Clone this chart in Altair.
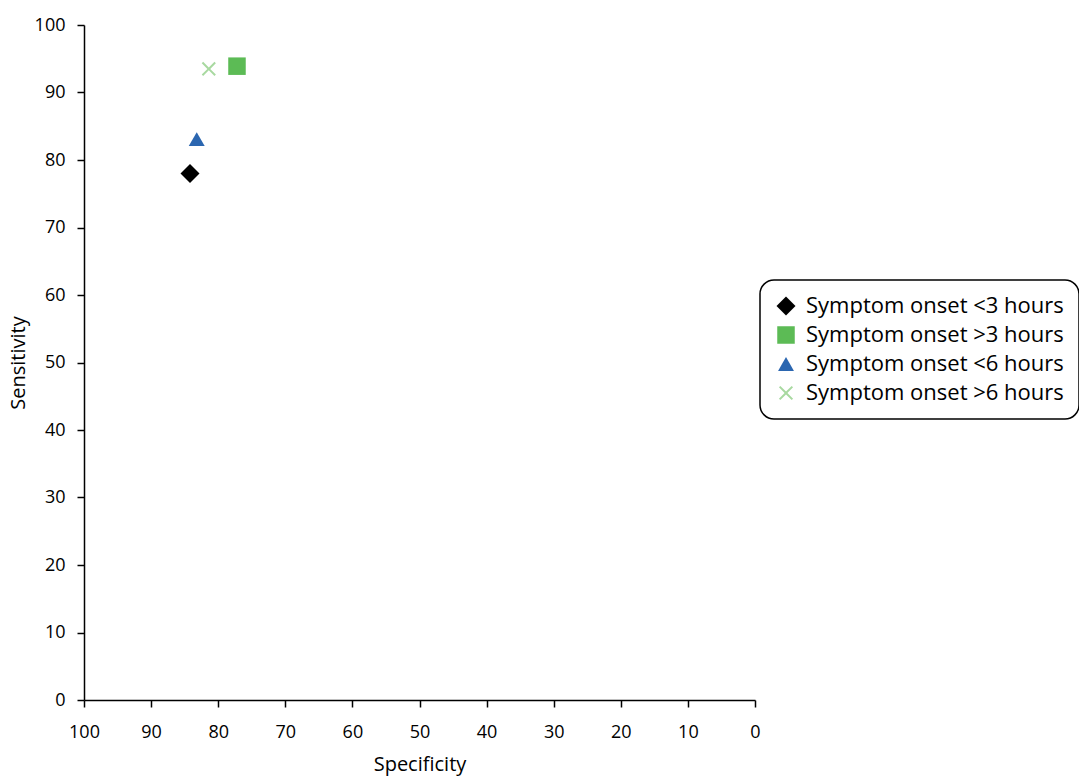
import altair as alt
import pandas as pd

series = ["Symptom onset <3 hours", "Symptom onset >3 hours",
          "Symptom onset <6 hours", "Symptom onset >6 hours"]
specificity = [84.2, 77.2, 83.2, 81.4]
sensitivity = [78.0, 93.9, 83.1, 93.5]
colors = ["#000000", "#5cbb55", "#2b66b0", "#a8d9a0"]
xpath = ("M-0.8,-1L0,-0.2L0.8,-1L1,-0.8L0.2,0L1,0.8L0.8,1L0,0.2"
         "L-0.8,1L-1,0.8L-0.2,0L-1,-0.8Z")
shapes = ["diamond", "square", "triangle-up", xpath]
sizes = [360, 200, 330, 190]

df = pd.DataFrame({"series": series, "spec": specificity, "sens": sensitivity})

FONT = "Open Sans"

chart = alt.Chart(df).mark_point(filled=True, opacity=1).encode(
    x=alt.X("spec:Q", title="Specificity",
            scale=alt.Scale(domain=[0, 100], reverse=True, nice=False),
            axis=alt.Axis(values=list(range(0, 101, 10)), labelPadding=16,
                          titlePadding=13, labelFlush=False)),
    y=alt.Y("sens:Q", title="Sensitivity",
            scale=alt.Scale(domain=[0, 100], nice=False),
            axis=alt.Axis(values=list(range(0, 101, 10)), labelPadding=12,
                          titlePadding=6, labelFlush=False)),
    color=alt.Color("series:N", scale=alt.Scale(domain=series, range=colors),
                    legend=alt.Legend(title=None, orient="none", legendX=676,
                                      legendY=255)),
    shape=alt.Shape("series:N", scale=alt.Scale(domain=series, range=shapes)),
    size=alt.Size("series:N", scale=alt.Scale(domain=series, range=sizes),
                  legend=None),
).properties(
    width=671, height=675,
    padding={"left": 84, "top": 25, "right": 324, "bottom": 76},
    autosize=alt.AutoSizeParams(type="none"),
).configure_view(stroke=None).configure_axis(
    grid=False, domainColor="#000000", tickColor="#000000", tickSize=7,
    domainWidth=1.5, tickWidth=1.5,
    labelFont=FONT, titleFont=FONT, labelFontSize=18, titleFontSize=20,
    labelColor="#000000", titleColor="#000000", titleFontWeight="normal",
).configure_legend(
    labelFont=FONT, labelFontSize=22, labelColor="#000000", labelLimit=400,
    symbolSize=190, rowPadding=7, strokeColor="#000000", strokeWidth=1.5,
    cornerRadius=14, padding=15, symbolStrokeWidth=0, labelOffset=9,
)

chart.save("out.html", embed_options={"renderer": "svg", "actions": False})
